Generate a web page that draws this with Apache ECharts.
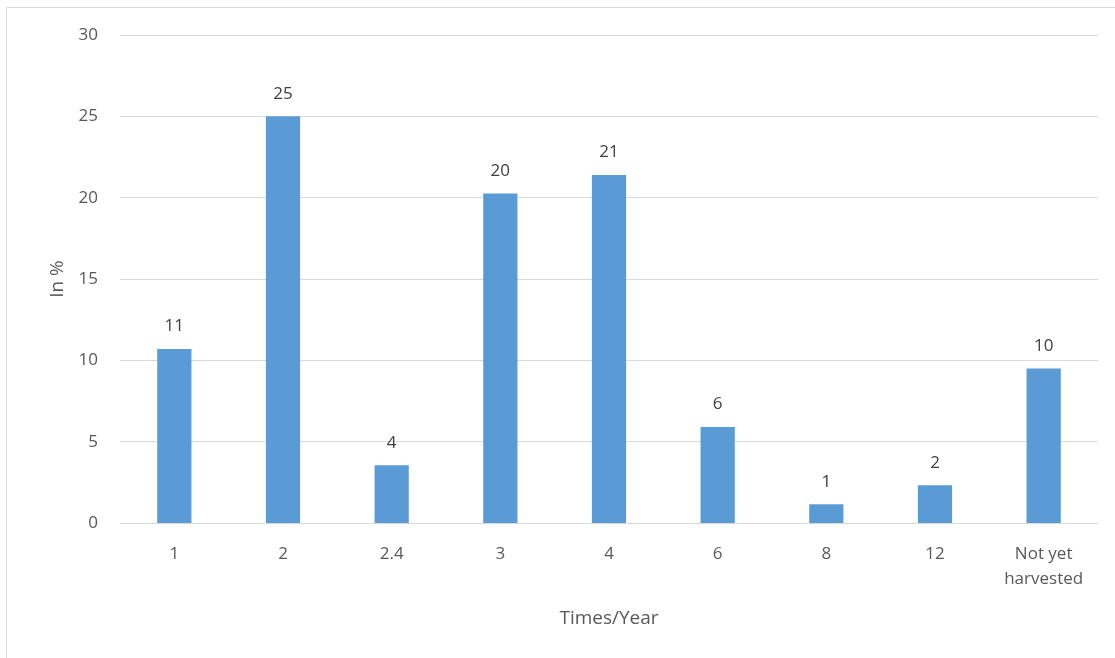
<!DOCTYPE html>
<html>
<head>
<meta charset="utf-8">
<script src="https://cdn.jsdelivr.net/npm/echarts@6/dist/echarts.min.js"></script>
<style>
  html, body { margin: 0; padding: 0; background: #ffffff; }
  #chart { width: 1115px; height: 658px; }
</style>
</head>
<body>
<div id="chart"></div>
<script>
// Harvest frequency (times per year) and share of respondents, in %
const categories = ['1', '2', '2.4', '3', '4', '6', '8', '12', 'Not yet\nharvested'];
const shares = [10.7, 25.0, 3.55, 20.25, 21.4, 5.9, 1.15, 2.32, 9.5];
const yTicks = [0, 5, 10, 15, 20, 25, 30];

const FONT = '"Open Sans", "Noto Sans", sans-serif';

const chart = echarts.init(document.getElementById('chart'), null, { renderer: 'canvas' });

chart.setOption({
  backgroundColor: '#ffffff',
  animation: false,
  graphic: [{
    type: 'rect',
    shape: { x: 6.5, y: 7.5, width: 1200, height: 700 },
    style: { fill: 'none', stroke: '#d9d9d9', lineWidth: 1 },
    silent: true
  }],
  grid: { left: 120, right: 17, top: 35, bottom: 135 },
  xAxis: {
    type: 'category',
    data: categories,
    name: 'Times/Year',
    nameLocation: 'middle',
    nameGap: 86,
    nameTextStyle: { fontFamily: FONT, fontSize: 19, color: '#595959' },
    axisLine: { lineStyle: { color: '#d9d9d9', width: 1 } },
    axisTick: { show: false },
    axisLabel: {
      fontFamily: FONT, fontSize: 17, color: '#595959',
      margin: 19, lineHeight: 25, interval: 0
    }
  },
  yAxis: {
    type: 'value',
    min: yTicks[0],
    max: yTicks[yTicks.length - 1],
    interval: 5,
    name: 'In %',
    nameLocation: 'middle',
    nameGap: 53,
    nameTextStyle: { fontFamily: FONT, fontSize: 19, color: '#595959' },
    axisLine: { show: false },
    axisTick: { show: false },
    axisLabel: { fontFamily: FONT, fontSize: 17, color: '#595959', margin: 22 },
    splitLine: { lineStyle: { color: '#d9d9d9', width: 1 } }
  },
  series: [{
    type: 'bar',
    data: shares,
    barWidth: '31.5%',
    itemStyle: { color: '#5b9bd5' },
    label: {
      show: true,
      position: 'top',
      distance: 14,
      fontFamily: FONT,
      fontSize: 17,
      color: '#404040',
      formatter: p => Math.round(p.value)
    }
  }]
});
</script>
</body>
</html>
